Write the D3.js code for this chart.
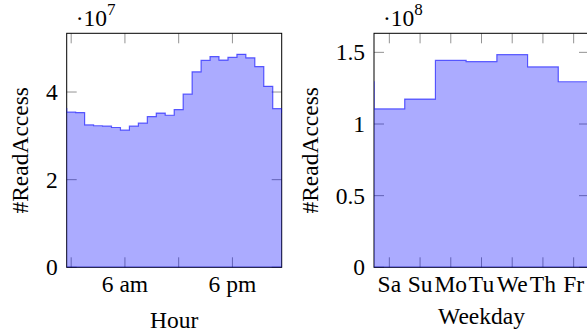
<!DOCTYPE html>
<html>
<head>
<meta charset="utf-8">
<script src="https://cdn.jsdelivr.net/npm/d3@7"></script>
<style>
  body { margin: 0; background: #fff; }
  svg { display: block; font-family: "Liberation Serif", "DejaVu Serif", serif; }
</style>
</head>
<body>
<svg id="chart" width="587" height="333"></svg>
<script>
// hourly reads (left panel)
var hours = [0, 1, 2, 3, 4, 5, 6, 7, 8, 9, 10, 11, 12, 13, 14, 15, 16, 17, 18, 19, 20, 21, 22, 23];
var hourReads = [3.54e7, 3.53e7, 3.25e7, 3.23e7, 3.22e7, 3.19e7, 3.13e7, 3.22e7, 3.29e7, 3.44e7, 3.52e7, 3.47e7,
                 3.60e7, 3.95e7, 4.46e7, 4.72e7, 4.81e7, 4.73e7, 4.79e7, 4.86e7, 4.78e7, 4.58e7, 4.13e7, 3.62e7];
var hourTicks = [0, 6, 12, 18];
var hourTickLabels = ["", "6 am", "", "6 pm"];
var hourYTicks = [0, 2e7, 4e7];
var hourYTickLabels = ["0", "2", "4"];

// weekday reads (right panel)
var weekdays = ["Sa", "Su", "Mo", "Tu", "We", "Th", "Fr"];
var dayReads = [1.105e8, 1.174e8, 1.444e8, 1.435e8, 1.484e8, 1.398e8, 1.295e8];
var dayYTicks = [0, 0.5e8, 1e8, 1.5e8];
var dayYTickLabels = ["0", "0.5", "1", "1.5"];

var svg = d3.select("#chart");
var fs = 23.5;

var drawPanel = function (p) {
	var n = p.values.length;
	var x = d3.scaleLinear().domain([-0.5, n - 0.5]).range([p.left, p.right]);
	var y = d3.scaleLinear().domain([0, p.ymax]).range([p.bottom, p.top]);

	// wrap around so the steps continue past both edges
	var pts = [[-1, p.values[n - 1]]];
	p.values.forEach(function (v, i) { pts.push([i, v]); });
	pts.push([n, p.values[0]]);

	var g = svg.append("g");

	g.append("clipPath").attr("id", p.id + "clip")
		.append("rect")
		.attr("x", p.left).attr("y", p.top)
		.attr("width", p.right - p.left).attr("height", p.bottom - p.top);

	// ticks, inward on all four sides
	var tl = 10;
	p.xticks.forEach(function (t) {
		g.append("line").attr("x1", x(t)).attr("x2", x(t)).attr("y1", p.bottom).attr("y2", p.bottom - tl)
			.attr("stroke", "#777").attr("stroke-width", 0.8);
		g.append("line").attr("x1", x(t)).attr("x2", x(t)).attr("y1", p.top).attr("y2", p.top + tl)
			.attr("stroke", "#777").attr("stroke-width", 0.8);
	});
	p.yticks.forEach(function (t) {
		g.append("line").attr("x1", p.left).attr("x2", p.left + tl).attr("y1", y(t)).attr("y2", y(t))
			.attr("stroke", "#777").attr("stroke-width", 0.8);
		g.append("line").attr("x1", p.right).attr("x2", p.right - tl).attr("y1", y(t)).attr("y2", y(t))
			.attr("stroke", "#777").attr("stroke-width", 0.8);
	});

	// frame
	g.append("rect")
		.attr("x", p.left).attr("y", p.top)
		.attr("width", p.right - p.left).attr("height", p.bottom - p.top)
		.attr("fill", "none").attr("stroke", "#000").attr("stroke-width", 1);

	var area = d3.area()
		.curve(d3.curveStep)
		.x(function (d) { return x(d[0]); })
		.y0(y(0))
		.y1(function (d) { return y(d[1]); });

	g.append("path")
		.datum(pts)
		.attr("clip-path", "url(#" + p.id + "clip)")
		.attr("d", area)
		.attr("fill", "#0000ff").attr("fill-opacity", 0.33)
		.attr("stroke", "#0000ff").attr("stroke-opacity", 0.6).attr("stroke-width", 1.2);

	// tick labels
	p.yticks.forEach(function (t, i) {
		g.append("text").attr("x", p.left - 9).attr("y", y(t)).attr("dy", "0.34em")
			.attr("text-anchor", "end").attr("font-size", fs).text(p.ytickLabels[i]);
	});
	p.xticks.forEach(function (t, i) {
		g.append("text").attr("x", x(t)).attr("y", 292)
			.attr("text-anchor", "middle").attr("font-size", fs).text(p.xtickLabels[i]);
	});

	// axis labels
	g.append("text").attr("x", (p.left + p.right) / 2).attr("y", p.xlabelY)
		.attr("text-anchor", "middle").attr("font-size", fs).text(p.xlabel);
	g.append("text")
		.attr("transform", "translate(" + p.ylabelX + "," + (p.top + p.bottom) / 2 + ") rotate(-90)")
		.attr("text-anchor", "middle").attr("font-size", fs).text("#ReadAccess");

	// scale factor
	var sc = g.append("text").attr("x", p.left + 9).attr("y", 26).attr("font-size", fs);
	sc.append("tspan").text("\u00b710");
	sc.append("tspan").attr("font-size", 17).attr("dy", -11).text(p.exponent);
};

drawPanel({
	id: "hour", values: hourReads, ymax: 5.34e7,
	left: 66.7, right: 281.7, top: 33.3, bottom: 267.3,
	xticks: hourTicks.map(function (h) { return hours.indexOf(h); }), xtickLabels: hourTickLabels,
	yticks: hourYTicks, ytickLabels: hourYTickLabels,
	xlabel: "Hour", xlabelY: 327.5, ylabelX: 28, exponent: "7"
});

drawPanel({
	id: "day", values: dayReads, ymax: 1.633e8,
	left: 374, right: 589, top: 33.3, bottom: 267.3,
	xticks: weekdays.map(function (d, i) { return i; }), xtickLabels: weekdays,
	yticks: dayYTicks, ytickLabels: dayYTickLabels,
	xlabel: "Weekday", xlabelY: 324, ylabelX: 318, exponent: "8"
});
</script>
</body>
</html>
